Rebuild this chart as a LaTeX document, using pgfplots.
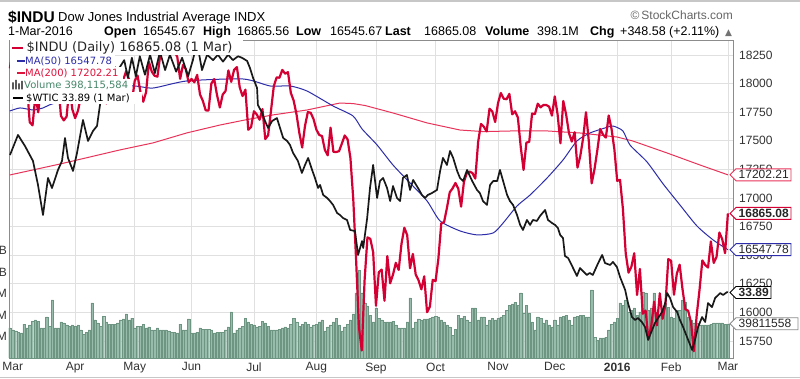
\documentclass[border=0pt]{standalone}
\usepackage{pgfplots}
\pgfplotsset{compat=1.18}
\usepackage{fontspec}
\setmainfont{Liberation Sans}
\newfontfamily\dv{DejaVu Sans}
\definecolor{indu}{RGB}{212,0,52}
\definecolor{maf}{RGB}{45,45,170}
\definecolor{mat}{RGB}{232,52,90}
\definecolor{mattxt}{RGB}{222,20,60}
\definecolor{volf}{RGB}{152,188,172}
\definecolor{vole}{RGB}{110,148,130}
\definecolor{voltxt}{RGB}{70,135,105}
\definecolor{gridc}{RGB}{224,224,224}
\pgfplotsset{common/.style={at={(9pt,21pt)},anchor=south west,scale only axis,
  width=724pt,height=318pt,xmin=-1.3,xmax=253.8,clip=false,scaled y ticks=false,scaled x ticks=false}}
\newcommand\pricetag[5]{%
  \draw[#2,fill=white,line width=0.9pt] ([xshift=-3pt]#1) -- ++(6,6) -- ++(#3,0) -- ++(0,-12) -- ++(-#3,0) -- cycle;
  \node[anchor=west,inner sep=0pt,text=black!85,font=\fontsize{12}{12}\selectfont#5] at ([xshift=5.5pt]#1) {#4};}
\begin{document}
\begin{tikzpicture}[x=1pt,y=1pt,
  hdr/.style={anchor=base west,inner sep=0pt,font=\fontsize{12.5}{13}\selectfont},
  hdrb/.style={anchor=base west,inner sep=0pt,font=\fontsize{12.5}{13}\selectfont\bfseries}]
\useasboundingbox (0,0) rectangle (800,379);
\fill[white] (0,0) rectangle (800,379);
\draw[black!22,line width=1.2pt] (0,378) -- (800,378);
\draw[black!22,line width=0.8pt] (0,1.5) -- (800,1.5);
% header
\node[anchor=base west,inner sep=0pt] at (8,356) {\fontsize{15.5}{16}\selectfont\bfseries\$INDU};
\node[anchor=base west,inner sep=0pt] at (58,357) {\fontsize{13}{14}\selectfont Dow Jones Industrial Average INDX};
\node[anchor=base east,inner sep=0pt,text=black!60] at (733,359) {\fontsize{12}{13}\selectfont\textcopyright\,StockCharts.com};
\node[hdr] at (8,343) {1-Mar-2016};
\node[hdrb] at (104,343) {Open};
\node[hdr] at (143,343) {16545.67};
\node[hdrb] at (203,343) {High};
\node[hdr] at (237,343) {16865.56};
\node[hdrb] at (296,343) {Low};
\node[hdr] at (330,343) {16545.67};
\node[hdrb] at (385,343) {Last};
\node[hdr] at (424,343) {16865.08};
\node[hdrb] at (485,343) {Volume};
\node[hdr] at (537,343) {398.1M};
\node[hdrb] at (590,343) {Chg};
\node[hdr] at (620,343) {+348.58 (+2.11\%)};
\node[anchor=base west,inner sep=0pt,text=black!55] at (725,343) {\dv\fontsize{9}{10}\selectfont ▲};

% axis A: grid, frame, ticks
\begin{axis}[common,clip=true,ymin=15601,ymax=18381,
  ytick={15750,16000,16250,16500,16750,17000,17250,17500,17750,18000,18250},
  yticklabel pos=right,
  xtick={0,22,43,63,85,107,128,149,171,191,213,232,252},
  xticklabels={Mar,Apr,May,Jun,Jul,Aug,Sep,Oct,Nov,Dec,\textbf{2016},Feb,Mar},
  major tick length=0pt,
  grid=major,major grid style={gridc,line width=0.8pt},
  axis line style={black!45,line width=0.8pt},
  tick label style={font=\fontsize{12}{12}\selectfont,text=black!80},
  yticklabel style={anchor=west,inner sep=0pt,xshift=6pt,
    /pgf/number format/fixed,/pgf/number format/precision=0},
  xticklabel style={anchor=north,inner sep=0pt,yshift=-4.5pt},
  /pgf/number format/1000 sep={},
  /pgf/number format/assume math mode=true]
\addplot[draw=none] coordinates {(0,16000)};
\end{axis}

% axis B: volume
\begin{axis}[common,ymin=0,ymax=3698,
  axis line style={draw=none},xtick=\empty,
  ytick={250,500,750,1000,1250},yticklabels={M,M,M,B,B},
  major tick length=0pt,
  tick label style={font=\fontsize{12}{12}\selectfont,text=black!80},
  yticklabel style={anchor=east,inner sep=0pt,xshift=-2pt}]
\addplot[ybar,bar width=2.35pt,fill=volf,draw=vole,line width=0.35pt] coordinates {
(-1,349)(0,326)(1,314)(2,302)(3,291)(4,395)(5,349)(6,384)(7,430)(8,442)(9,430)(10,349)(11,349)(12,477)(13,372)(14,675)(15,349)(16,349)(17,419)(18,407)(19,384)(20,372)(21,384)(22,372)(23,384)(24,326)(25,279)(26,302)(27,326)(28,640)(29,442)(30,407)(31,372)(32,488)(33,419)(34,395)(35,395)(36,395)(37,407)(38,442)(39,454)(40,512)(41,442)(42,465)(43,349)(44,372)(45,372)(46,395)(47,349)(48,361)(49,326)(50,326)(51,349)(52,326)(53,326)(54,326)(55,314)(56,302)(57,302)(58,291)(59,395)(60,326)(61,326)(62,454)(63,291)(64,291)(65,302)(66,349)(67,337)(68,337)(69,337)(70,326)(71,291)(72,302)(73,302)(74,302)(75,326)(76,361)(77,535)(78,291)(79,326)(80,349)(81,372)(82,465)(83,419)(84,395)(85,384)(86,361)(87,372)(88,430)(89,407)(90,372)(91,326)(92,326)(93,326)(94,337)(95,349)(96,361)(97,349)(98,395)(99,465)(100,419)(101,372)(102,395)(103,419)(104,395)(105,361)(106,384)(107,395)(108,419)(109,442)(110,314)(111,361)(112,384)(113,419)(114,465)(115,384)(116,314)(117,361)(118,395)(119,442)(120,512)(121,756)(122,1023)(123,756)(124,640)(125,605)(126,500)(127,419)(128,582)(129,465)(130,442)(131,419)(132,419)(133,419)(134,430)(135,384)(136,349)(137,349)(138,349)(139,419)(140,698)(141,349)(142,419)(143,454)(144,442)(145,454)(146,454)(147,465)(148,477)(149,488)(150,477)(151,442)(152,419)(153,384)(154,361)(155,267)(156,337)(157,500)(158,465)(159,488)(160,442)(161,419)(162,582)(163,582)(164,442)(165,477)(166,477)(167,384)(168,442)(169,465)(170,442)(171,465)(172,477)(173,500)(174,558)(175,616)(176,628)(177,651)(178,616)(179,756)(180,523)(181,616)(182,523)(183,419)(184,326)(185,477)(186,465)(187,407)(188,442)(189,384)(190,361)(191,442)(192,384)(193,477)(194,488)(195,500)(196,442)(197,384)(198,477)(199,488)(200,500)(201,500)(202,477)(203,477)(204,791)(205,244)(206,209)(207,233)(208,233)(209,244)(210,326)(211,395)(212,419)(213,465)(214,640)(215,616)(216,675)(217,535)(218,558)(219,582)(220,500)(221,535)(222,768)(223,756)(224,558)(225,582)(226,756)(227,535)(228,500)(229,477)(230,640)(231,593)(232,477)(233,465)(234,558)(235,558)(236,675)(237,651)(238,477)(239,442)(240,407)(241,407)(242,384)(243,384)(244,384)(245,384)(246,395)(247,407)(248,407)(249,407)(250,407)(251,395)(252,398)};
\coordinate (tE) at (axis cs:253.8,398.1);
\end{axis}

% axis D: price series
\begin{axis}[common,clip=true,ymin=15601,ymax=18381,hide axis]
\addplot[mat,line width=1pt] coordinates {
(-1,17201)(16.7,17297)(37.8,17420)(49.4,17481)(61.4,17569)(73.1,17638)(81.9,17682)(91.7,17726)(103.7,17769)(115.3,17830)(120,17825)(124.2,17808)(134.0,17743)(146.0,17656)(157.6,17594)(166,17580)(176.3,17586)(188.3,17586)(199.9,17568)(212.9,17533)(218.5,17498)(230.6,17393)(242.2,17288)(252,17202.21)};
\addplot[maf,line width=1pt,smooth,tension=0.4] coordinates {
(-1,17760)(2.6,17787)(7.2,17769)(10.7,17787)(13.9,17822)(25,17900)(41.3,17979)(49.4,17961)(61.4,18023)(81.2,18040)(90.7,17979)(97.7,17979)(103.7,17935)(112.9,17804)(119.9,17717)(123.1,17603)(128.4,17463)(134.0,17288)(140.0,17131)(146.0,16974)(150.6,16799)(157.6,16712)(163.6,16677)(169.3,16694)(172.8,16781)(177.7,16930)(182.3,17026)(188.3,17175)(193.9,17332)(198.8,17498)(203.4,17568)(208.7,17612)(211.5,17629)(215.0,17586)(217.5,17463)(223.5,17315)(229.2,17122)(235.1,16939)(241.1,16755)(246.8,16633)(252,16547.78)};
\addplot[indu,line width=2.2pt,line join=round] coordinates {
(-1,18133)(0,18288)(1,18203)(2,18096)(3,18136)(4,17856)(5,17996)(6,17662)(7,17635)(8,17895)(9,17749)(10,17977)(11,17849)(12,18076)(13,17959)(14,18127)(15,18116)(16,18011)(17,17718)(18,17678)(19,17712)(20,17976)(21,17776)
(22,17698)(23,17763)(24,17880)(25,17875)(26,17902)(27,17958)(28,18057)(29,17977)(30,18036)(31,18113)(32,18106)(33,17826)(34,18034)(35,17949)(36,18038)(37,18058)(38,18080)(39,18037)(40,18110)(41,18035)(42,17841)
(43,18024)(44,18070)(45,17928)(46,17841)(47,17924)(48,18191)(49,18105)(50,18068)(51,18060)(52,18252)(53,18272)(54,18298)(55,18312)(56,18285)(57,18285)(58,18232)(59,18041)(60,18162)(61,18126)(62,18011)
(63,18040)(64,18011)(65,18076)(66,17905)(67,17849)(68,17766)(69,17764)(70,18000)(71,18039)(72,17899)(73,17791)(74,17904)(75,17935)(76,18115)(77,18015)(78,18119)(79,18144)(80,17966)(81,17891)(82,17947)(83,17596)(84,17620)
(85,17758)(86,17730)(87,17684)(88,17777)(89,17515)(90,17548)(91,17760)(92,17977)(93,18054)(94,18051)(95,18120)(96,18086)(97,18100)(98,17919)(99,17851)(100,17732)(101,17569)(102,17441)(103,17631)(104,17751)(105,17745)(106,17690)
(107,17598)(108,17551)(109,17541)(110,17420)(111,17373)(112,17615)(113,17403)(114,17402)(115,17409)(116,17477)(117,17546)(118,17512)(119,17349)(120,16990)(121,16460)(122,15871)(123,15666)(124,16285)(125,16655)(126,16643)(127,16528)
(128,16058)(129,16351)(130,16374)(131,16102)(132,16492)(133,16254)(134,16330)(135,16433)(136,16371)(137,16600)(138,16740)(139,16675)(140,16385)(141,16511)(142,16331)(143,16280)(144,16201)(145,16315)(146,16001)(147,16050)(148,16285)
(149,16272)(150,16472)(151,16777)(152,16790)(153,16912)(154,17050)(155,17084)(156,17131)(157,17082)(158,16924)(159,17142)(160,17216)(161,17230)(162,17218)(163,17169)(164,17490)(165,17647)(166,17623)(167,17582)(168,17780)(169,17756)(170,17664)
(171,17829)(172,17918)(173,17868)(174,17863)(175,17910)(176,17731)(177,17758)(178,17703)(179,17449)(180,17245)(181,17484)(182,17490)(183,17738)(184,17733)(185,17824)(186,17792)(187,17813)(188,17813)(189,17798)(190,17720)
(191,17888)(192,17730)(193,17478)(194,17848)(195,17730)(196,17568)(197,17493)(198,17575)(199,17265)(200,17368)(201,17525)(202,17750)(203,17495)(204,17128)(205,17252)(206,17418)(207,17603)(208,17553)(209,17528)(210,17721)(211,17604)(212,17425)
(213,17149)(214,17159)(215,16907)(216,16515)(217,16347)(218,16399)(219,16517)(220,16152)(221,16380)(222,15988)(223,16016)(224,15766)(225,15882)(226,16094)(227,15886)(228,16167)(229,15944)(230,16070)(231,16466)
(232,16450)(233,16154)(234,16337)(235,16417)(236,16205)(237,16027)(238,16014)(239,15915)(240,15660)(241,15974)(242,16196)(243,16454)(244,16414)(245,16392)(246,16620)(247,16432)(248,16485)(249,16698)(250,16640)(251,16517)(252,16865.08)};
\coordinate (tA) at (axis cs:253.8,17202.21);
\coordinate (tB) at (axis cs:253.8,16865.08);
\coordinate (tC) at (axis cs:253.8,16547.78);
\end{axis}

% axis C: WTIC overlay
\begin{axis}[common,clip=true,ymin=25.375,ymax=66.715,hide axis]
\addplot[black!90,line width=1.7pt,line join=round] coordinates {
(-0.95,51.77)(1.87,54.37)(4.33,52.93)(7.15,50.99)(8.92,47.87)(10.68,43.97)(12.44,48.78)(13.85,47.47)(15.96,49.82)(17.37,50.99)(18.43,53.97)(19.49,51.37)(21.25,49.69)(22.66,52.03)(24.77,56.32)(26.54,53.59)(28.30,54.89)(29.71,55.54)(30.76,58.27)(32.5,61.5)(35.0,63.5)(37.1,62.8)(39.3,64.1)(40.6,61.8)(42.0,64.4)(43.4,62.0)(44.8,64.6)(46.6,62.2)(48.4,64.8)(50.1,62.4)(51.9,65.2)(53.7,62.8)(55.4,64.8)(57.6,62.6)(59.7,64.4)(61.8,62.0)(63.5,64.1)(64.9,66.5)(66.7,62.8)(68.5,64.8)(70.6,64.1)(72.3,64.8)(74.1,63.9)(75.9,64.8)(77.6,64.1)(79.4,64.6)(80.8,64.4)(82.6,63.99)(83.6,63.08)(84.7,61.78)(86.1,60.48)(86.4,58.27)(87.9,57.23)(88.9,56.18)(90.0,55.28)(91.4,56.18)(93.1,56.57)(94.2,55.28)(95.3,53.98)(96.7,53.59)(97.7,53.07)(98.8,52.03)(100.5,50.99)(101.9,49.43)(103.0,50.47)(104.1,51.38)(105.5,49.82)(106.5,48.78)(107.6,47.48)(108.3,47.87)(109.4,46.57)(110.8,46.18)(111.8,45.78)(112.9,45.27)(114.3,44.23)(115.3,43.97)(116.4,43.57)(117.8,43.32)(118.9,42.02)(120.6,41.88)(121.7,38.77)(123.1,40.58)(123.5,39.68)(124.9,43.57)(125.9,47.48)(127.0,50.47)(128.4,46.18)(129.4,48.38)(130.5,48.78)(131.9,47.48)(133.0,45.78)(134.0,47.73)(135.4,46.18)(136.5,45.78)(137.5,48.78)(138.9,49.17)(140.0,47.22)(141.1,48.52)(142.8,47.48)(144.2,46.57)(145.3,46.18)(146.3,46.57)(147.7,46.82)(149.5,47.22)(150.6,49.69)(151.6,51.38)(153.0,50.47)(154.1,52.29)(155.2,51.38)(156.6,49.69)(157.6,48.78)(158.7,48.38)(160.1,49.82)(161.9,48.38)(163.6,47.22)(164.6,46.82)(165.7,45.78)(167.1,45.27)(168.2,47.87)(169.3,48.38)(170.7,48.38)(171.7,49.82)(172.8,48.38)(174.2,46.57)(175.2,45.78)(176.3,45.27)(177.7,43.97)(178.8,42.67)(179.8,42.02)(181.2,43.32)(182.3,42.67)(183.3,43.32)(184.7,43.19)(185.8,43.84)(187.6,44.62)(188.6,43.32)(190.0,42.93)(191.1,42.67)(192.1,42.28)(192.9,41.37)(193.9,40.97)(194.6,38.63)(195.7,38.37)(197.1,37.34)(198.8,36.04)(199.9,37.07)(200.9,36.68)(202.3,36.17)(203.3,36.43)(204.4,36.17)(206.3,37.72)(207.7,38.77)(208.7,37.72)(210.5,37.47)(211.5,37.86)(212.9,37.20)(214.0,35.90)(215.8,34.22)(216.8,32.52)(218.2,30.70)(219.3,30.32)(220.3,30.57)(221.7,30.05)(222.8,29.41)(223.9,27.72)(225.3,29.02)(226.3,29.92)(227.4,30.57)(228.8,31.36)(229.9,32.52)(230.6,33.82)(231.6,33.17)(232.7,31.99)(234.1,31.36)(235.1,30.32)(236.2,29.41)(237.6,28.10)(239.4,26.42)(240.4,27.72)(241.5,29.41)(242.9,30.70)(244.0,30.05)(245.0,32.52)(246.4,31.99)(247.5,33.17)(249.3,33.82)(250.3,33.56)(251.7,33.95)(252,33.89)};
\coordinate (tD) at (axis cs:253.8,33.89);
\end{axis}

% legend
\fill[white] (10,324) rectangle (243,338.5);
\fill[white] (10,312) rectangle (115,324);
\fill[white] (10,300) rectangle (123,312);
\fill[white] (10,287) rectangle (132,300);
\fill[white] (10,275) rectangle (142,287);
\draw[indu,line width=2pt] (12,331) -- (23,331);
\node[anchor=west,inner sep=0pt,text=black!85] at (26.5,331) {\dv\fontsize{13}{13}\selectfont \$INDU (Daily) 16865.08 (1 Mar)};
\draw[maf,line width=2pt] (17,318) -- (25,318);
\node[anchor=west,inner sep=0pt,text=maf] at (25,318) {\dv\fontsize{10}{10}\selectfont MA(50) 16547.78};
\draw[mattxt,line width=2pt] (17,306) -- (25,306);
\node[anchor=west,inner sep=0pt,text=mattxt] at (25,306) {\dv\fontsize{10}{10}\selectfont MA(200) 17202.21};
\fill[black!65] (12,289.5) rectangle (13.8,296.5) (15,289.5) rectangle (16.8,299) (18,289.5) rectangle (19.8,295.5) (21,289.5) rectangle (22.8,298);
\node[anchor=west,inner sep=0pt,text=voltxt] at (24,294) {\dv\fontsize{10}{10}\selectfont Volume 398,115,584};
\draw[black,line width=2pt] (13,281) -- (23,281);
\node[anchor=west,inner sep=0pt,text=black] at (26,281) {\dv\fontsize{10}{10}\selectfont \$WTIC 33.89 (1 Mar)};

% price tags
\pricetag{tA}{mat}{55}{17202.21}{}
\pricetag{tB}{indu}{55}{16865.08}{\bfseries}
\pricetag{tC}{maf}{55}{16547.78}{}
\pricetag{tD}{black}{35}{33.89}{\bfseries}
\pricetag{tE}{black!45}{62}{39811558}{}
\end{tikzpicture}
\end{document}
